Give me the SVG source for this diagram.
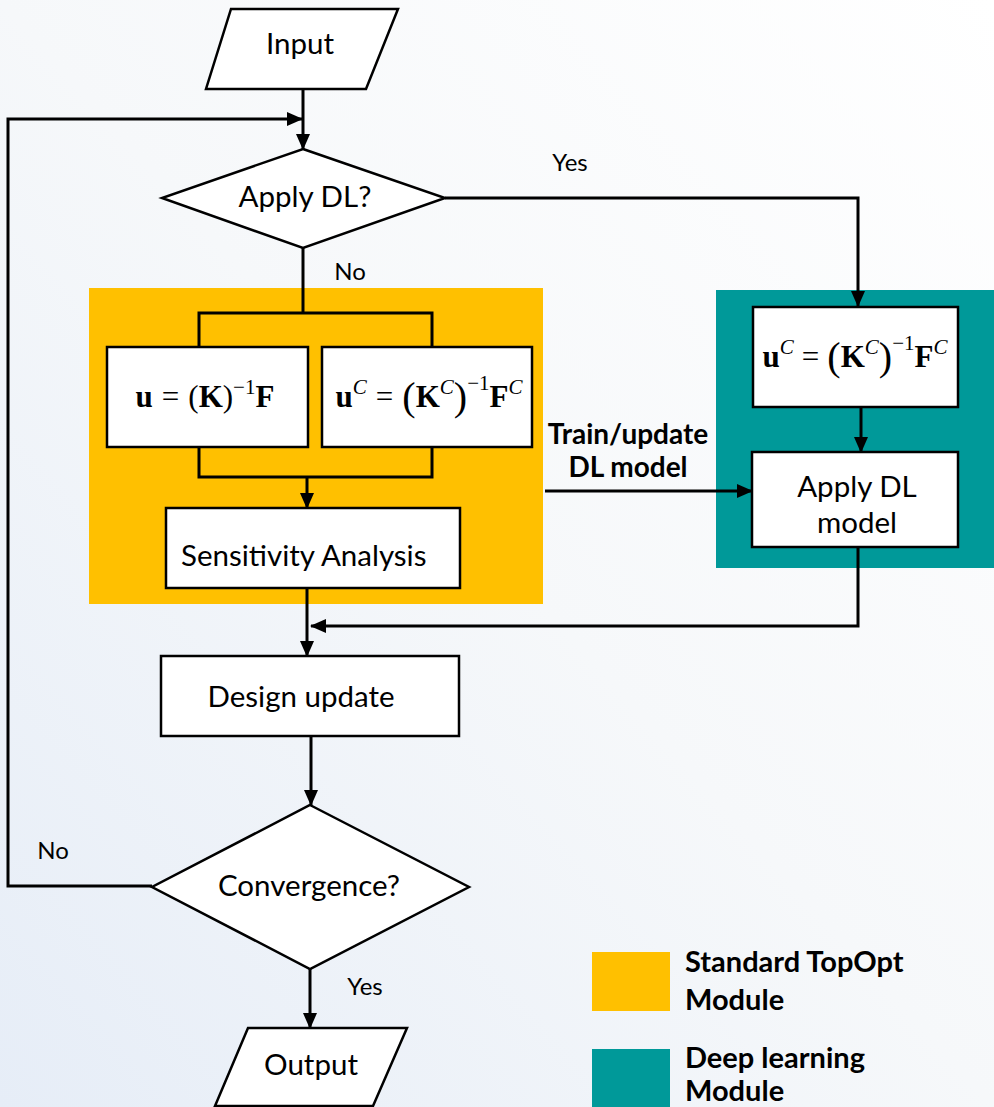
<svg xmlns="http://www.w3.org/2000/svg" width="994" height="1107" viewBox="0 0 994 1107">
  <defs>
    <linearGradient id="bg" x1="0" y1="1" x2="1" y2="0">
      <stop offset="0" stop-color="#E6EDF7"/>
      <stop offset="0.5" stop-color="#F6F8FA"/>
      <stop offset="1" stop-color="#FFFFFF"/>
    </linearGradient>
    <marker id="arr" markerUnits="userSpaceOnUse" markerWidth="16" markerHeight="14" refX="15" refY="7" orient="auto">
      <path d="M0,0 L16,7 L0,14 z" fill="#000"/>
    </marker>
    <style>
      .box { fill: #fff; stroke: #000; stroke-width: 2.5; }
      .shape { fill: #fff; stroke: #000; stroke-width: 2.5; }
      .conn { fill: none; stroke: #000; stroke-width: 3; }
      .lbl { font-family: Lato, "Liberation Sans", sans-serif; font-size: 29.5px; fill: #000; }
      .small { font-family: Lato, "Liberation Sans", sans-serif; font-size: 24px; fill: #000; }
      .bold { font-family: Lato, "Liberation Sans", sans-serif; font-size: 28px; font-weight: bold; fill: #000; }
      .leg { font-family: Lato, "Liberation Sans", sans-serif; font-size: 29px; font-weight: bold; fill: #000; }
      .math { font-family: "Liberation Serif", "DejaVu Serif", serif; font-size: 31px; fill: #000; }
      .sup { font-size: 21px; }
      .big { font-size: 40px; }
      .b { font-weight: bold; }
      .it { font-style: italic; }
    </style>
  </defs>
  <rect x="0" y="0" width="994" height="1107" fill="url(#bg)"/>

  <g id="module-standard">
    <rect x="89" y="288" width="454" height="316" fill="#FFC000"/>
  </g>
  <g id="module-dl">
    <rect x="716" y="290" width="278" height="278" fill="#009999"/>
  </g>

  <g id="connectors">
    <path class="conn" d="M303 89 V149" marker-end="url(#arr)"/>
    <path class="conn" d="M152 886 H8 V119 H302" marker-end="url(#arr)"/>
    <path class="conn" d="M445 198 H858 V306" marker-end="url(#arr)"/>
    <path class="conn" d="M303 248 V313"/>
    <path class="conn" d="M199 347 V313 H432 V347"/>
    <path class="conn" d="M199 447 V477 H432 V447"/>
    <path class="conn" d="M307 477 V508" marker-end="url(#arr)"/>
    <path class="conn" d="M307 588 V656" marker-end="url(#arr)"/>
    <path class="conn" d="M858 547 V626 H311" marker-end="url(#arr)"/>
    <path class="conn" d="M861 407 V452" marker-end="url(#arr)"/>
    <path class="conn" d="M545 491 H752" marker-end="url(#arr)"/>
    <path class="conn" d="M311 736 V805" marker-end="url(#arr)"/>
    <path class="conn" d="M310 969 V1028" marker-end="url(#arr)"/>
  </g>

  <g id="input">
    <polygon class="shape" points="231,9 398,9 366,89 206,89"/>
    <text class="lbl" x="300" y="54" text-anchor="middle">Input</text>
  </g>
  <g id="apply-dl">
    <polygon class="shape" points="303,149 445,198 303,248 162,198"/>
    <text class="lbl" x="305" y="207" text-anchor="middle">Apply DL?</text>
  </g>
  <g id="solve-full">
    <rect class="box" x="107" y="347" width="201" height="100"/>
    <text class="math" x="205" y="407" text-anchor="middle"><tspan class="b">u</tspan><tspan dx="9">=</tspan><tspan dx="9">(</tspan><tspan class="b">K</tspan>)<tspan dy="-13" class="sup">−1</tspan><tspan dy="13" class="b">F</tspan></text>
  </g>
  <g id="solve-coarse">
    <rect class="box" x="322" y="347" width="210" height="100"/>
    <text class="math" x="429" y="407" text-anchor="middle"><tspan class="b">u</tspan><tspan dy="-13" class="sup it">C</tspan><tspan dy="13" dx="9">=</tspan><tspan class="big" dy="3" dx="9">(</tspan><tspan dy="-3" class="b">K</tspan><tspan dy="-13" class="sup it">C</tspan><tspan dy="16" class="big">)</tspan><tspan dy="-20" class="sup">−1</tspan><tspan dy="17" class="b">F</tspan><tspan dy="-13" class="sup it">C</tspan></text>
  </g>
  <g id="sensitivity">
    <rect class="box" x="166" y="508" width="294" height="80"/>
    <text class="lbl" x="181" y="566">Sensitivity Analysis</text>
  </g>
  <g id="solve-coarse-dl">
    <rect class="box" x="753" y="307" width="205" height="100"/>
    <text class="math" x="855" y="367" text-anchor="middle"><tspan class="b">u</tspan><tspan dy="-13" class="sup it">C</tspan><tspan dy="13" dx="8">=</tspan><tspan class="big" dy="3" dx="8">(</tspan><tspan dy="-3" class="b">K</tspan><tspan dy="-13" class="sup it">C</tspan><tspan dy="16" class="big">)</tspan><tspan dy="-20" class="sup">−1</tspan><tspan dy="17" class="b">F</tspan><tspan dy="-13" class="sup it">C</tspan></text>
  </g>
  <g id="apply-dl-model">
    <rect class="box" x="752" y="452" width="206" height="95"/>
    <text class="lbl" x="857" y="497" text-anchor="middle">Apply DL</text>
    <text class="lbl" x="857" y="533" text-anchor="middle">model</text>
  </g>
  <g id="design-update">
    <rect class="box" x="161" y="656" width="298" height="80"/>
    <text class="lbl" x="301" y="707" text-anchor="middle">Design update</text>
  </g>
  <g id="convergence">
    <polygon class="shape" points="310,805 469,887 310,969 152,887"/>
    <text class="lbl" x="309" y="896" text-anchor="middle">Convergence?</text>
  </g>
  <g id="output">
    <polygon class="shape" points="248,1028 407,1028 373,1106 215,1106"/>
    <text class="lbl" x="311" y="1075" text-anchor="middle">Output</text>
  </g>

  <g id="labels">
    <text class="small" x="570" y="171" text-anchor="middle">Yes</text>
    <text class="small" x="350" y="280" text-anchor="middle">No</text>
    <text class="small" x="53" y="859" text-anchor="middle">No</text>
    <text class="small" x="365" y="995" text-anchor="middle">Yes</text>
    <text class="bold" x="628" y="444" text-anchor="middle">Train/update</text>
    <text class="bold" x="628" y="477" text-anchor="middle">DL model</text>
  </g>

  <g id="legend">
    <rect x="592" y="952" width="78" height="59" fill="#FFC000"/>
    <rect x="592" y="1049" width="78" height="60" fill="#009999"/>
    <text class="leg" x="685" y="972">Standard TopOpt</text>
    <text class="leg" x="685" y="1010">Module</text>
    <text class="leg" x="685" y="1068">Deep learning</text>
    <text class="leg" x="685" y="1101">Module</text>
  </g>
</svg>
